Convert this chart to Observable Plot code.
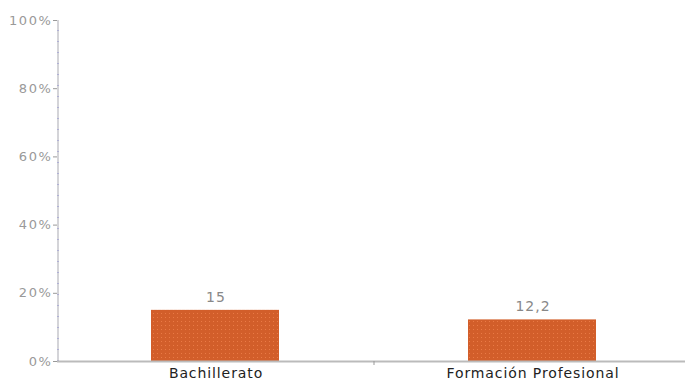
<!DOCTYPE html>
<html><head><meta charset="utf-8">
<script src="https://cdn.jsdelivr.net/npm/d3@7"></script>
<script src="https://cdn.jsdelivr.net/npm/@observablehq/plot@0.6"></script>
<style>body{margin:0;background:#fff}svg{overflow:visible}</style>
</head><body><div id="chart"></div>
<script>
const categories = ["Bachillerato", "Formación Profesional"];
const values = [15, 12.2];
const yTicks = [0, 20, 40, 60, 80, 100];

const data = categories.map((c, i) => ({cat: c, v: values[i]}));
const fmt = v => String(v).replace(".", ",");

const plot = Plot.plot({
  width: 685, height: 388,
  marginLeft: 57, marginRight: -6, marginTop: 20, marginBottom: 27,
  style: {fontFamily: "'DejaVu Sans', Verdana, sans-serif", background: "#fff"},
  x: {domain: categories, padding: 0, label: null},
  y: {domain: [0, 100], label: null},
  marks: [
    Plot.barY(data, {x: "cat", y: "v", fill: "url(#dots)", insetLeft: 94, insetRight: 95}),
    Plot.text(data, {x: "cat", y: "v", text: d => fmt(d.v), dy: -13, fill: "#888", fontSize: 14, className: "vlab"}),
    Plot.ruleX([0], {x: () => categories[0], stroke: "#d4d4d8", strokeWidth: 2, dx: -158, y1: 0, y2: 100}),
    Plot.ruleX([0], {x: () => categories[0], stroke: "#8c8cd0", strokeWidth: 1, strokeDasharray: "1,10", dx: -158, y1: 0, y2: 100}),
    Plot.ruleY([0], {stroke: "#bbb", strokeWidth: 2}),
    Plot.axisY(yTicks, {tickFormat: d => d + "%", tickSize: 4, stroke: "#999", fill: "#999", fontSize: 13, tickPadding: 1}),
    Plot.axisX({tickSize: 0, fill: "#222", fontSize: 14, tickPadding: 7})
  ]
});

// letter spacing to approximate Verdana width
plot.querySelectorAll('g[aria-label="y-axis tick label"]').forEach(g => g.setAttribute("letter-spacing", "1.6"));
plot.querySelectorAll('g[aria-label="x-axis tick label"]').forEach(g => g.setAttribute("letter-spacing", "0.9"));
plot.querySelectorAll('g.vlab, g[aria-label="text"]').forEach(g => g.setAttribute("letter-spacing", "1"));

// pattern defs for bar fill
const ns = "http://www.w3.org/2000/svg";
const defs = document.createElementNS(ns, "defs");
defs.innerHTML = `<pattern id="dots" width="4" height="4" patternUnits="userSpaceOnUse">
<rect width="4" height="4" fill="#d25e2a"/><rect x="1" y="1" width="1" height="1" fill="#ea7a45"/></pattern>`;
plot.insertBefore(defs, plot.firstChild);

// separator tick on x axis between bands
const xs = plot.scale("x");
const sep = document.createElementNS(ns, "line");
const sx = xs.apply(categories[1]);
sep.setAttribute("x1", sx); sep.setAttribute("x2", sx);
sep.setAttribute("y1", 361); sep.setAttribute("y2", 365);
sep.setAttribute("stroke", "#999");
plot.appendChild(sep);

document.getElementById("chart").appendChild(plot);
</script></body></html>
